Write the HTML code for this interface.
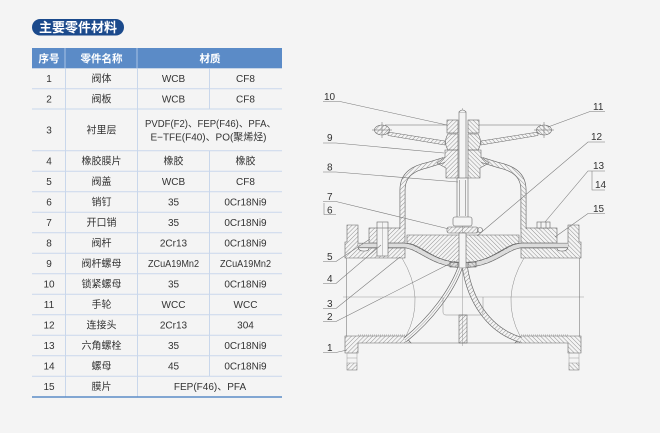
<!DOCTYPE html>
<html><head><meta charset="utf-8">
<style>
html,body{margin:0;padding:0;background:#f4f4f4;}
body{width:660px;height:433px;overflow:hidden;}
svg{display:block;font-family:"Liberation Sans","Noto Sans CJK SC",sans-serif;}
</style></head><body>
<svg width="660" height="433" viewBox="0 0 660 433" xmlns="http://www.w3.org/2000/svg">
<defs>
<pattern id="h" patternUnits="userSpaceOnUse" width="3" height="3" patternTransform="rotate(45)"><line x1="0" y1="0" x2="0" y2="3" stroke="#777" stroke-width="0.8"/></pattern>
<pattern id="d" patternUnits="userSpaceOnUse" width="2" height="2"><circle cx="1" cy="1" r="0.5" fill="#777"/></pattern>
</defs>
<rect width="660" height="433" fill="#f4f4f4"/>

<!-- Title -->
<rect x="32" y="19" width="92" height="16.5" rx="8.2" fill="#1b4a8c"/>
<text x="78" y="32" text-anchor="middle" font-size="13" font-weight="bold" fill="#fff">主要零件材料</text>

<!-- Table -->
<rect x="32" y="48" width="250" height="20.3" fill="#5b8bc7"/>
<g stroke="#a9c3e4" stroke-width="1">
<line x1="65" y1="48" x2="65" y2="68.3"/><line x1="137" y1="48" x2="137" y2="68.3"/>
</g>
<g font-size="10.5" font-weight="bold" fill="#fff" text-anchor="middle">
<text x="49" y="62">序号</text><text x="101.5" y="62">零件名称</text><text x="210" y="62">材质</text>
</g>
<g stroke="#c9d7eb" stroke-width="1">
<line x1="32" y1="88.7" x2="282" y2="88.7"/>
<line x1="32" y1="109" x2="282" y2="109"/>
<line x1="32" y1="150.7" x2="282" y2="150.7"/>
<line x1="32" y1="171.2" x2="282" y2="171.2"/>
<line x1="32" y1="191.7" x2="282" y2="191.7"/>
<line x1="32" y1="212.2" x2="282" y2="212.2"/>
<line x1="32" y1="232.7" x2="282" y2="232.7"/>
<line x1="32" y1="253.2" x2="282" y2="253.2"/>
<line x1="32" y1="273.7" x2="282" y2="273.7"/>
<line x1="32" y1="294.2" x2="282" y2="294.2"/>
<line x1="32" y1="314.7" x2="282" y2="314.7"/>
<line x1="32" y1="335.2" x2="282" y2="335.2"/>
<line x1="32" y1="355.7" x2="282" y2="355.7"/>
<line x1="32" y1="376.2" x2="282" y2="376.2"/>
<line x1="65.5" y1="68.3" x2="65.5" y2="397"/>
<line x1="137.5" y1="68.3" x2="137.5" y2="397"/>
<line x1="209.5" y1="68.3" x2="209.5" y2="109"/>
<line x1="209.5" y1="150.7" x2="209.5" y2="376.2"/>
</g>
<line x1="32" y1="397" x2="282" y2="397" stroke="#5b8bc7" stroke-width="1.6"/>

<g font-size="10" fill="#333" text-anchor="middle">
<text x="49" y="82">1</text><text x="101.5" y="82">阀体</text><text x="173.5" y="82">WCB</text><text x="245.5" y="82">CF8</text>
<text x="49" y="102.4">2</text><text x="101.5" y="102.4">阀板</text><text x="173.5" y="102.4">WCB</text><text x="245.5" y="102.4">CF8</text>
<text x="49" y="133.4">3</text><text x="101.5" y="133.4">衬里层</text>
<text x="210.5" y="127" textLength="131" lengthAdjust="spacingAndGlyphs">PVDF(F2)、FEP(F46)、PFA、</text>
<text x="208.5" y="140.5" textLength="116" lengthAdjust="spacingAndGlyphs">E−TFE(F40)、PO(聚烯烃)</text>
<text x="49" y="164.5">4</text><text x="101.5" y="164.5">橡胶膜片</text><text x="173.5" y="164.5">橡胶</text><text x="245.5" y="164.5">橡胶</text>
<text x="49" y="185">5</text><text x="101.5" y="185">阀盖</text><text x="173.5" y="185">WCB</text><text x="245.5" y="185">CF8</text>
<text x="49" y="205.5">6</text><text x="101.5" y="205.5">销钉</text><text x="173.5" y="205.5">35</text><text x="245.5" y="205.5">0Cr18Ni9</text>
<text x="49" y="226">7</text><text x="101.5" y="226">开口销</text><text x="173.5" y="226">35</text><text x="245.5" y="226">0Cr18Ni9</text>
<text x="49" y="246.5">8</text><text x="101.5" y="246.5">阀杆</text><text x="173.5" y="246.5">2Cr13</text><text x="245.5" y="246.5">0Cr18Ni9</text>
<text x="49" y="267">9</text><text x="101.5" y="267">阀杆螺母</text><text x="173.5" y="267" textLength="51" lengthAdjust="spacingAndGlyphs">ZCuA19Mn2</text><text x="245.5" y="267" textLength="51" lengthAdjust="spacingAndGlyphs">ZCuA19Mn2</text>
<text x="49" y="287.5">10</text><text x="101.5" y="287.5">锁紧螺母</text><text x="173.5" y="287.5">35</text><text x="245.5" y="287.5">0Cr18Ni9</text>
<text x="49" y="308">11</text><text x="101.5" y="308">手轮</text><text x="173.5" y="308">WCC</text><text x="245.5" y="308">WCC</text>
<text x="49" y="328.5">12</text><text x="101.5" y="328.5">连接头</text><text x="173.5" y="328.5">2Cr13</text><text x="245.5" y="328.5">304</text>
<text x="49" y="349">13</text><text x="101.5" y="349">六角螺栓</text><text x="173.5" y="349">35</text><text x="245.5" y="349">0Cr18Ni9</text>
<text x="49" y="369.5">14</text><text x="101.5" y="369.5">螺母</text><text x="173.5" y="369.5">45</text><text x="245.5" y="369.5">0Cr18Ni9</text>
<text x="49" y="390">15</text><text x="101.5" y="390">膜片</text><text x="210" y="390">FEP(F46)、PFA</text>
</g>

<!-- ============ Diagram ============ -->
<g stroke="#999" stroke-width="0.5" fill="none">
<line x1="343" y1="297" x2="584" y2="297"/>
<line x1="462.5" y1="108" x2="462.5" y2="346"/>
</g>

<g id="half" stroke="#666" stroke-width="0.6">
 <path d="M345,336 L405,336 L411,343 L358,343 L358,353 L345,353 Z" fill="url(#h)"/>
 <line x1="358" y1="335" x2="405" y2="335" stroke="#777" stroke-dasharray="1 1"/>
 <rect x="347" y="353" width="10" height="17" fill="none" stroke="#999" stroke-width="0.5"/>
 <rect x="347" y="363" width="10" height="7" fill="url(#h)" stroke="#999" stroke-width="0.5"/>
 <line x1="347" y1="358" x2="357" y2="358" stroke="#999" stroke-width="0.5"/>
 <path d="M347,225 H358 V246 Q358,251 363,251 H365 Q369,251 369,248 H405 V258 H345 V242 H347 Z" fill="url(#h)"/>
 <line x1="346.5" y1="258" x2="346.5" y2="336" stroke-width="0.5"/>
 <path d="M402,258 Q426,298 406,336" fill="none" stroke="#888" stroke-width="0.5"/>
 <rect x="369" y="228" width="36" height="15" fill="url(#h)"/>
 <path d="M402.5,229 V190 C402.5,174 414,168 428,165 L444,160" fill="none" stroke="#666" stroke-width="5.8"/>
 <path d="M402.5,229 V190 C402.5,174 414,168 428,165 L444,160" fill="none" stroke="#f4f4f4" stroke-width="4.5"/>
 <path d="M402.5,229 V190 C402.5,174 414,168 428,165 L444,160" fill="none" stroke="url(#h)" stroke-width="4.5"/>
 <path d="M358,245.5 H404 C420,246 430,264 463,265.5" fill="none" stroke="#666" stroke-width="5.3"/>
 <path d="M358,245.5 H404 C420,246 430,264 463,265.5" fill="none" stroke="#f4f4f4" stroke-width="4"/>
 <path d="M358,245.5 H404 C420,246 430,264 463,265.5" fill="none" stroke="url(#d)" stroke-width="4"/>
 <path d="M407,235 H463 V263 C432,262 422,244 407,243.3 Z" fill="url(#h)"/>
 <rect x="450" y="262" width="8" height="5" fill="url(#h)"/>
 <rect x="447" y="120" width="11" height="13" fill="url(#h)"/>
 <path d="M448,134 H458 V150 H448 Q443,142 448,134 Z" fill="url(#h)"/>
 <path d="M445,150 H458 V178 H446 V168 L437,163 L445,157 Z" fill="url(#h)"/>
 <ellipse cx="382" cy="130" rx="7.5" ry="5" fill="url(#h)"/>
 <line x1="372" y1="130" x2="392" y2="130" stroke-width="0.5"/>
 <line x1="382" y1="122" x2="382" y2="138" stroke-width="0.5"/>
 <line x1="385" y1="125" x2="447" y2="125" stroke-width="0.5"/>
 <path d="M388,132 L445,141 L445,145 L388,135.5 Z" fill="url(#h)" stroke-width="0.5"/>
</g>
<use href="#half" transform="matrix(-1,0,0,1,926,0)"/>

<g stroke="#666" stroke-width="0.6">
<rect x="377" y="222" width="11" height="34" fill="#f4f4f4"/>
<line x1="377" y1="228" x2="388" y2="228"/>
<line x1="382.5" y1="222" x2="382.5" y2="256" stroke="#999" stroke-width="0.5"/>
<rect x="537" y="222" width="13" height="6" fill="#f4f4f4"/>
<line x1="541" y1="222" x2="541" y2="228"/><line x1="546" y1="222" x2="546" y2="228"/>
</g>

<g stroke="#666" stroke-width="0.6">
<rect x="459" y="112" width="7" height="70" fill="#f4f4f4"/>
<path d="M459,112 Q462.5,108 466,112" fill="#f4f4f4"/>
<rect x="457" y="178" width="11" height="40" fill="#f4f4f4"/>
<line x1="459.3" y1="180" x2="459.3" y2="216" stroke-width="0.5"/>
<line x1="465.7" y1="180" x2="465.7" y2="216" stroke-width="0.5"/>
<rect x="453" y="217" width="19" height="9" rx="2" fill="#f4f4f4"/>
<rect x="447" y="227" width="31" height="6" rx="2" fill="url(#h)"/>
<circle cx="480" cy="230" r="2.5" fill="none"/>
<rect x="459" y="233" width="7" height="35" fill="#f4f4f4"/>
<path d="M460,268 C452,290 432,318 405,340" fill="none" stroke="#666" stroke-width="5"/>
<path d="M460,268 C452,290 432,318 405,340" fill="none" stroke="#f4f4f4" stroke-width="3.7"/>
<path d="M460,268 C452,290 432,318 405,340" fill="none" stroke="#888" stroke-width="0.5"/>
<path d="M465,268 C470,300 488,330 521,340" fill="none" stroke="#666" stroke-width="5.8"/>
<path d="M465,268 C470,300 488,330 521,340" fill="none" stroke="#f4f4f4" stroke-width="4.5"/>
<path d="M465,268 C470,300 488,330 521,340" fill="none" stroke="url(#h)" stroke-width="4.5"/>
<path d="M443,297 V312 Q443,315 446,315 H480 Q483,315 483,312 V297" fill="none" stroke="#888" stroke-width="0.5"/>
<rect x="459" y="315" width="8" height="28" fill="url(#h)"/>
<line x1="411" y1="343" x2="515" y2="343" stroke-width="0.5"/>
</g>

<g stroke="#777" stroke-width="0.55" fill="none">
<polyline points="323,101.5 340,101.5 447,125"/>
<polyline points="323,143 336,143 444,153"/>
<polyline points="323,172 336,172 458,182"/>
<polyline points="323,201.5 336,201.5 449,229"/>
<polyline points="324,203 324,214.5 336,214.5"/>
<polyline points="323,261.5 336,261.5 370,239"/>
<polyline points="323,283.5 336,283.5 381,245"/>
<polyline points="323,308.5 336,308.5 400,257"/>
<polyline points="323,321.5 336,321.5 455,261"/>
<polyline points="323,352.5 336,352.5 347,350"/>
<polyline points="605,111.5 590,111.5 548,127"/>
<polyline points="605,142 588,142 477,236"/>
<polyline points="605,171 588,171 545,222"/>
<polyline points="592,171 592,190 605,190"/>
<polyline points="605,213.5 588,213.5 555,237"/>
</g>
<g font-size="10" fill="#333">
<text x="324" y="100">10</text>
<text x="327" y="141">9</text>
<text x="327" y="170.5">8</text>
<text x="327" y="200">7</text>
<text x="327" y="213.5">6</text>
<text x="327" y="260">5</text>
<text x="327" y="282">4</text>
<text x="327" y="307">3</text>
<text x="327" y="320">2</text>
<text x="327" y="351">1</text>
<text x="593" y="110">11</text>
<text x="591" y="140">12</text>
<text x="593" y="169">13</text>
<text x="595" y="188">14</text>
<text x="593" y="212">15</text>
</g>
</svg>
</body></html>
